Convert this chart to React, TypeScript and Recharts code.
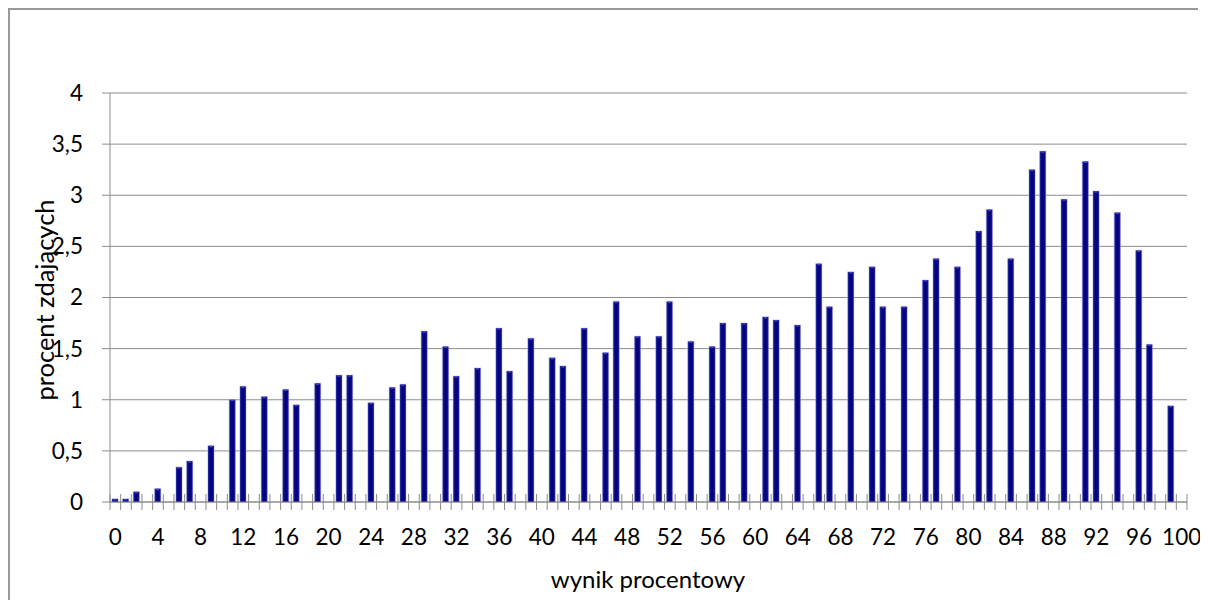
import React from "react";
import { BarChart, Bar, XAxis, YAxis, CartesianGrid } from "recharts";

// wynik procentowy (0..100)
const scores = [
  0, 1, 2, 3, 4, 5, 6, 7, 8, 9, 10, 11, 12, 13, 14, 15, 16, 17, 18, 19, 20,
  21, 22, 23, 24, 25, 26, 27, 28, 29, 30, 31, 32, 33, 34, 35, 36, 37, 38, 39, 40,
  41, 42, 43, 44, 45, 46, 47, 48, 49, 50, 51, 52, 53, 54, 55, 56, 57, 58, 59, 60,
  61, 62, 63, 64, 65, 66, 67, 68, 69, 70, 71, 72, 73, 74, 75, 76, 77, 78, 79, 80,
  81, 82, 83, 84, 85, 86, 87, 88, 89, 90, 91, 92, 93, 94, 95, 96, 97, 98, 99, 100,
];

// procent zdających, one value per score
const takersPct = [
  0.03, 0.03, 0.1, 0, 0.13, 0, 0.34, 0.4, 0, 0.55, 0,
  1.0, 1.13, 0, 1.03, 0, 1.1, 0.95, 0, 1.16, 0,
  1.24, 1.24, 0, 0.97, 0, 1.12, 1.15, 0, 1.67, 0,
  1.52, 1.23, 0, 1.31, 0, 1.7, 1.28, 0, 1.6, 0,
  1.41, 1.33, 0, 1.7, 0, 1.46, 1.96, 0, 1.62, 0,
  1.62, 1.96, 0, 1.57, 0, 1.52, 1.75, 0, 1.75, 0,
  1.81, 1.78, 0, 1.73, 0, 2.33, 1.91, 0, 2.25, 0,
  2.3, 1.91, 0, 1.91, 0, 2.17, 2.38, 0, 2.3, 0,
  2.65, 2.86, 0, 2.38, 0, 3.25, 3.43, 0, 2.96, 0,
  3.33, 3.04, 0, 2.83, 0, 2.46, 1.54, 0, 0.94, 0,
];

const yTicks = [0, 0.5, 1, 1.5, 2, 2.5, 3, 3.5, 4];
const labelEvery = 4;

const data = scores.map((s, i) => ({ score: s, pct: takersPct[i] }));

const W = 1192;
const H = 592;
const margin = { top: 85, right: 13, bottom: 38, left: 0 };
const Y_AXIS_W = 102;
const X_AXIS_H = 60;
const band = (W - margin.left - margin.right - Y_AXIS_W) / scores.length;

const FONT = "Lato, 'Open Sans', sans-serif";
const GRID = "#8c8c8c";

function XTick({ x, y, payload, index }: any) {
  const left = x - band / 2;
  return (
    <g>
      <line x1={left} x2={left} y1={y - 8} y2={y + 8} stroke={GRID} />
      {index === scores.length - 1 && (
        <line x1={x + band / 2} x2={x + band / 2} y1={y - 8} y2={y + 8} stroke={GRID} />
      )}
      {payload.value % labelEvery === 0 && (
        <text x={x} y={y + 43} textAnchor="middle" fontSize={22.5} fill="#000" fontFamily={FONT}>
          {payload.value}
        </text>
      )}
    </g>
  );
}

function BevelBar({ x, y, width, height }: any) {
  if (!height || height <= 0) return null;
  return (
    <g>
      <rect x={x - 0.7} y={y - 0.7} width={width + 1.4} height={height + 0.7} fill="#b9b9cc" opacity={0.55} />
      <rect x={x} y={y} width={width} height={height} fill="url(#barFill)" />
      <rect x={x + 1.5} y={y} width={width - 3} height={1.5} fill="#4848cc" />
    </g>
  );
}

export default function App() {
  return (
    <div style={{ position: "relative", width: W, height: H }}>
      <style>{"html,body{overflow:hidden}"}</style>
      <div
        style={{
          position: "absolute",
          left: 0,
          top: 0,
          width: W - 4,
          height: H,
          borderLeft: "2px solid #999",
          borderTop: "2px solid #999",
        }}
      />
      <BarChart width={W} height={H} data={data} margin={margin} barSize={6}>
        <defs>
          <linearGradient id="barFill" x1="0" y1="0" x2="1" y2="0">
            <stop offset="0%" stopColor="#3434b2" />
            <stop offset="20%" stopColor="#0e0e8a" />
            <stop offset="50%" stopColor="#00007e" />
            <stop offset="80%" stopColor="#0b0b82" />
            <stop offset="100%" stopColor="#2a2aa4" />
          </linearGradient>
        </defs>
        <CartesianGrid vertical={false} stroke={GRID} strokeWidth={1} />
        <XAxis
          dataKey="score"
          interval={0}
          height={X_AXIS_H}
          tickSize={0}
          tickMargin={0}
          tickLine={false}
          axisLine={{ stroke: GRID }}
          tick={<XTick />}
        />
        <YAxis
          width={Y_AXIS_W}
          domain={[0, 4]}
          ticks={yTicks}
          interval={0}
          tickSize={8}
          tickMargin={19}
          tickLine={{ stroke: GRID }}
          axisLine={{ stroke: GRID }}
          tick={{ fontSize: 22.5, fill: "#000", fontFamily: FONT }}
          tickFormatter={(v: number) => String(v).replace(".", ",")}
        />
        <Bar dataKey="pct" shape={<BevelBar />} isAnimationActive={false} />
      </BarChart>
      <div
        style={{
          position: "absolute",
          left: 37,
          top: 292,
          transform: "translate(-50%, -50%) rotate(-90deg)",
          whiteSpace: "nowrap",
          fontFamily: FONT,
          fontSize: 25.5,
          lineHeight: 1,
          color: "#000",
        }}
      >
        procent zdających
      </div>
      <div
        style={{
          position: "absolute",
          left: 640,
          top: 571,
          transform: "translate(-50%, -50%)",
          whiteSpace: "nowrap",
          fontFamily: FONT,
          fontSize: 24,
          lineHeight: 1,
          color: "#000",
        }}
      >
        wynik procentowy
      </div>
    </div>
  );
}
